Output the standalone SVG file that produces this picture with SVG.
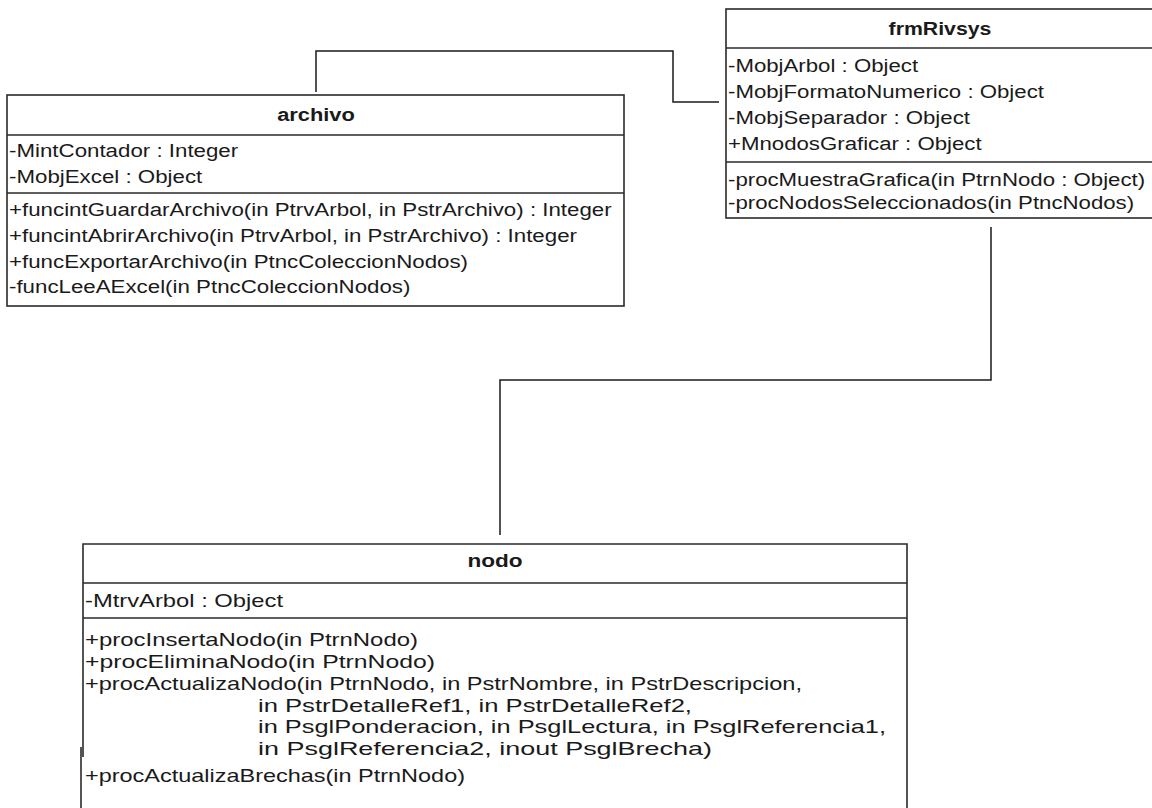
<svg xmlns="http://www.w3.org/2000/svg" width="1152" height="808" viewBox="0 0 1152 808">
  <style>
    .box { fill: #ffffff; stroke: #2a2a2a; stroke-width: 1.6; }
    .sep { stroke: #2a2a2a; stroke-width: 1.6; fill: none; }
    .edge { stroke: #1a1a1a; stroke-width: 1.5; fill: none; }
    text { font-family: "Liberation Sans", Arial, sans-serif; font-size: 19px; fill: #1a1a1a; }
    .title { font-weight: bold; text-anchor: middle; }
  </style>
  <rect width="1152" height="808" fill="#ffffff"/>

  <!-- associations -->
  <g id="connectors">
    <path class="edge" d="M316,92 V51 H673 V102 H719"/>
    <path class="edge" d="M991,227 V380 H500 V535"/>
  </g>

  <!-- class: archivo -->
  <g id="archivo">
    <rect class="box" x="7" y="95" width="617" height="211"/>
    <line class="sep" x1="7" y1="135" x2="624" y2="135"/>
    <line class="sep" x1="7" y1="193" x2="624" y2="193"/>
    <text class="title" transform="translate(316,121) scale(1.15,1)">archivo</text>
    <text transform="translate(9,157) scale(1.174,1)">-MintContador : Integer</text>
    <text transform="translate(9,183) scale(1.174,1)">-MobjExcel : Object</text>
    <text transform="translate(9,216) scale(1.174,1)">+funcintGuardarArchivo(in PtrvArbol, in PstrArchivo) : Integer</text>
    <text transform="translate(9,242) scale(1.174,1)">+funcintAbrirArchivo(in PtrvArbol, in PstrArchivo) : Integer</text>
    <text transform="translate(9,268) scale(1.174,1)">+funcExportarArchivo(in PtncColeccionNodos)</text>
    <text transform="translate(9,293) scale(1.174,1)">-funcLeeAExcel(in PtncColeccionNodos)</text>
  </g>

  <!-- class: frmRivsys -->
  <g id="frmRivsys">
    <rect class="box" x="726" y="9" width="430" height="209"/>
    <line class="sep" x1="726" y1="48" x2="1152" y2="48"/>
    <line class="sep" x1="726" y1="162" x2="1152" y2="162"/>
    <text class="title" transform="translate(940,35) scale(1.12,1)">frmRivsys</text>
    <text transform="translate(728,72) scale(1.17,1)">-MobjArbol : Object</text>
    <text transform="translate(728,98) scale(1.17,1)">-MobjFormatoNumerico : Object</text>
    <text transform="translate(728,124) scale(1.17,1)">-MobjSeparador : Object</text>
    <text transform="translate(728,150) scale(1.17,1)">+MnodosGraficar : Object</text>
    <text transform="translate(728,186) scale(1.17,1)">-procMuestraGrafica(in PtrnNodo : Object)</text>
    <text transform="translate(728,209) scale(1.17,1)">-procNodosSeleccionados(in PtncNodos)</text>
  </g>

  <!-- class: nodo (continues below the visible area) -->
  <g id="nodo">
    <path class="box" d="M83,757 V544 H907 V808"/>
    <line class="sep" x1="81" y1="747" x2="81" y2="808"/>
    <line class="sep" x1="83" y1="583" x2="907" y2="583"/>
    <line class="sep" x1="83" y1="618" x2="907" y2="618"/>
    <text class="title" transform="translate(495,567) scale(1.19,1)">nodo</text>
    <text x="85" y="607" textLength="198" lengthAdjust="spacingAndGlyphs">-MtrvArbol : Object</text>
    <text x="85" y="646" textLength="333" lengthAdjust="spacingAndGlyphs">+procInsertaNodo(in PtrnNodo)</text>
    <text x="85" y="668" textLength="350" lengthAdjust="spacingAndGlyphs">+procEliminaNodo(in PtrnNodo)</text>
    <text x="85" y="690" textLength="717" lengthAdjust="spacingAndGlyphs">+procActualizaNodo(in PtrnNodo, in PstrNombre, in PstrDescripcion,</text>
    <text x="258" y="712" textLength="434" lengthAdjust="spacingAndGlyphs">in PstrDetalleRef1, in PstrDetalleRef2,</text>
    <text x="258" y="733" textLength="628" lengthAdjust="spacingAndGlyphs">in PsglPonderacion, in PsglLectura, in PsglReferencia1,</text>
    <text x="258" y="755" textLength="454" lengthAdjust="spacingAndGlyphs">in PsglReferencia2, inout PsglBrecha)</text>
    <text x="85" y="782" textLength="380" lengthAdjust="spacingAndGlyphs">+procActualizaBrechas(in PtrnNodo)</text>
  </g>
</svg>
